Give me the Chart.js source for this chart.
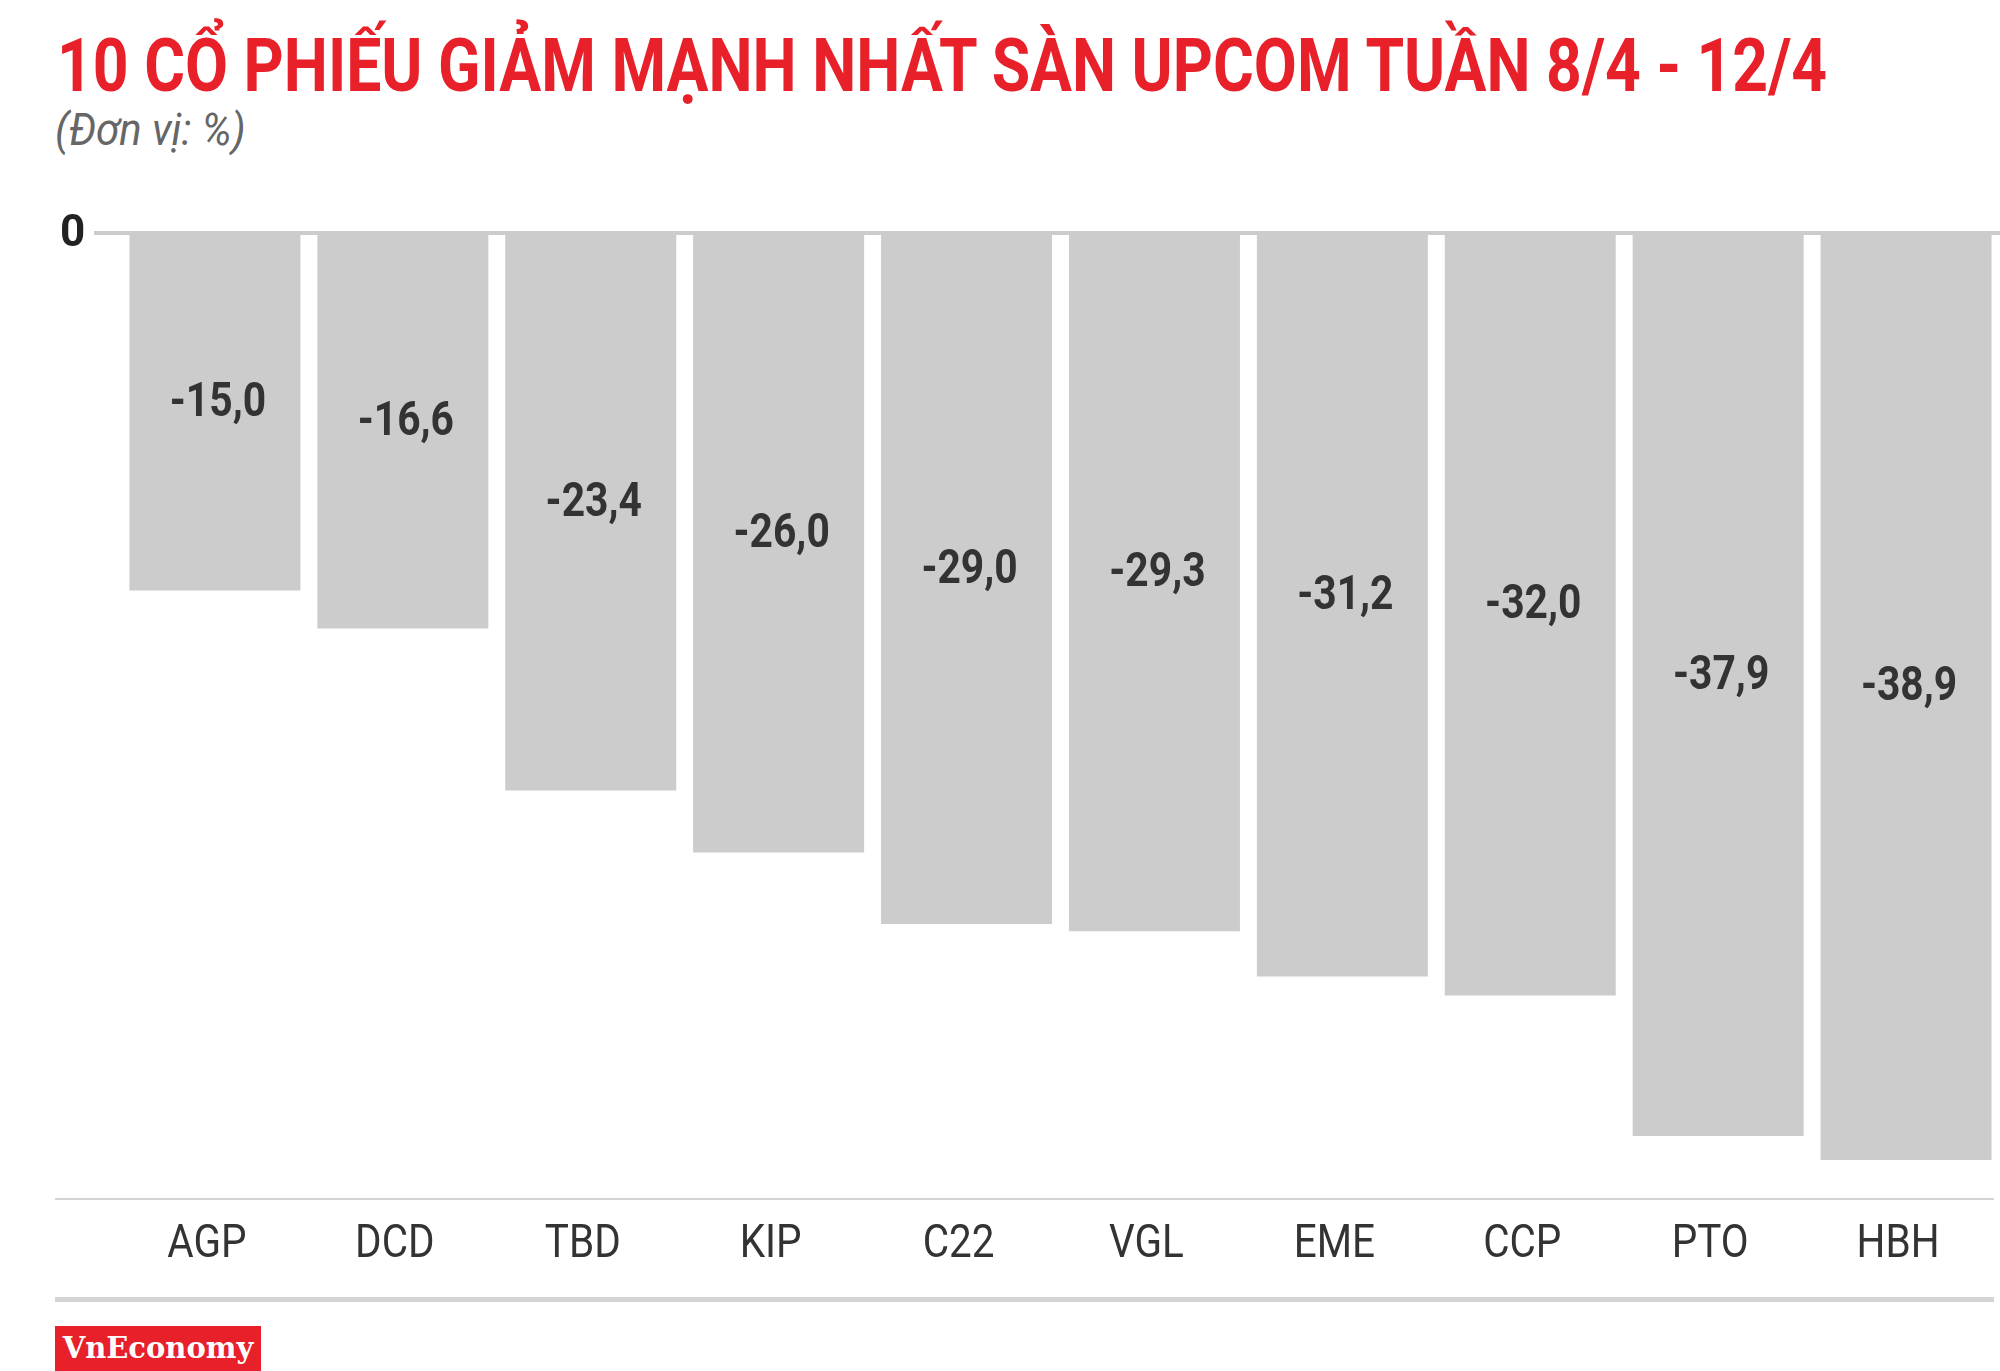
<!DOCTYPE html>
<html><head><meta charset="utf-8">
<script src="https://cdn.jsdelivr.net/npm/chart.js@4/dist/chart.umd.min.js"></script>
<style>
body{margin:0;width:2000px;height:1371px;background:#fff;position:relative;overflow:hidden;font-family:Roboto,sans-serif}
#title{position:absolute;left:57px;top:22px;font-weight:700;font-size:74px;color:#e8202a;white-space:nowrap;transform-origin:0 0;letter-spacing:0}
#sub{position:absolute;left:55px;top:104px;font-style:italic;font-size:44px;color:#666;transform-origin:0 0;transform:scaleX(0.95)}
#logo{position:absolute;left:55px;top:1326px;width:206px;height:45px;background:#e8202a;color:#fff;font-family:"DejaVu Serif",serif;font-weight:700;font-size:29px;line-height:45px;text-align:center}
canvas{position:absolute;left:0;top:0}
</style></head><body>
<div id="title">10 CỔ PHIẾU GIẢM MẠNH NHẤT SÀN UPCOM TUẦN 8/4 - 12/4</div>
<div id="sub">(Đơn vị: %)</div>
<canvas id="c" width="2000" height="1371"></canvas>
<div id="logo">VnEconomy</div>
<script>
const labels = ['AGP', 'DCD', 'TBD', 'KIP', 'C22', 'VGL', 'EME', 'CCP', 'PTO', 'HBH'];
const values = [-15.0, -16.6, -23.4, -26.0, -29.0, -29.3, -31.2, -32.0, -37.9, -38.9];

const t = document.getElementById('title');
t.style.transform = 'scaleX(' + (1770 / t.scrollWidth) + ')';

const decor = {
  id: 'decor',
  afterDatasetsDraw(chart) {
    const ctx = chart.ctx, y = chart.scales.y;
    const z = y.getPixelForValue(0);
    ctx.save();
    ctx.fillStyle = '#cccccc';
    ctx.fillRect(94, z - 2, 1906, 4);
    ctx.fillStyle = '#d4d4d4';
    ctx.fillRect(55, 1198, 1939, 2);
    ctx.fillRect(55, 1297, 1939, 5);
    ctx.fillStyle = '#222';
    ctx.font = 'bold 44px Roboto';
    ctx.textAlign = 'left'; ctx.textBaseline = 'middle';
    ctx.fillText('0', 60, z + 2);
    ctx.textAlign = 'center';
    const meta = chart.getDatasetMeta(0);
    meta.data.forEach((b, i) => {
      ctx.fillStyle = '#333';
      ctx.font = 'bold 48px Roboto';
      ctx.save();
      ctx.translate(b.x + 3, (b.y + b.base) / 2 - 8);
      ctx.scale(0.85, 1);
      ctx.fillText(values[i].toFixed(1).replace('.', ','), 0, 0);
      ctx.restore();
      ctx.font = '46px Roboto';
      ctx.save();
      ctx.translate(b.x - 8, 1245);
      ctx.scale(0.88, 1);
      ctx.fillText(labels[i], 0, 0);
      ctx.restore();
    });
    ctx.restore();
  }
};

new Chart(document.getElementById('c'), {
  type: 'bar',
  data: { labels, datasets: [{ data: values, backgroundColor: '#cdcccd', barPercentage: 0.91, categoryPercentage: 1 }] },
  options: {
    responsive: false, animation: false,
    layout: { padding: { top: 233, left: 121, right: 0, bottom: 172 } },
    plugins: { legend: { display: false }, tooltip: { enabled: false } },
    scales: {
      x: { display: false },
      y: { display: false, min: -40.54, max: 0 }
    }
  },
  plugins: [decor]
});
</script>
</body></html>
